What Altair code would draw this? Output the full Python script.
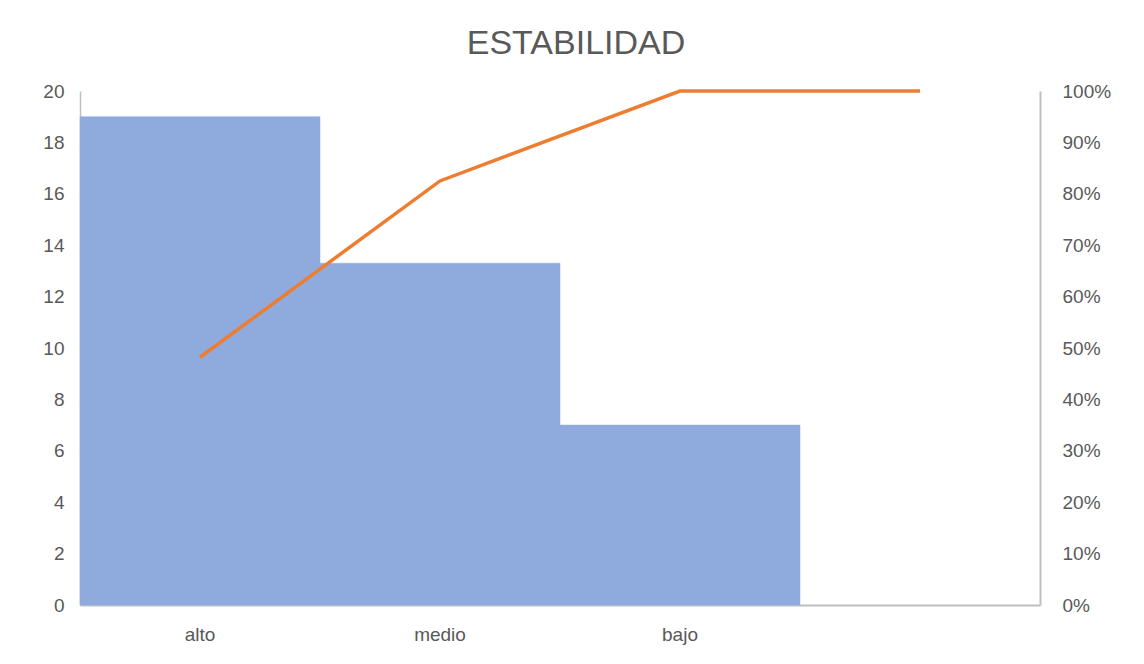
import altair as alt
import pandas as pd

categories = ["alto", "medio", "bajo", " "]
bar_cats = ["alto", "medio", "bajo"]
counts = [19, 13.3, 7]
cum_pct = [0.482, 0.825, 1.0, 1.0]
left_ticks = [0, 2, 4, 6, 8, 10, 12, 14, 16, 18, 20]
right_ticks = [0, 0.1, 0.2, 0.3, 0.4, 0.5, 0.6, 0.7, 0.8, 0.9, 1.0]

bars_df = pd.DataFrame({"cat": bar_cats, "count": counts})
line_df = pd.DataFrame({"cat": categories, "pct": cum_pct})

FONT = "Liberation Sans"
GREY = "#595959"
AXIS_LINE = "#BFBFBF"

xscale = alt.Scale(domain=categories, paddingInner=0, paddingOuter=0)
xaxis = alt.Axis(title=None, ticks=False, domain=True, domainColor=AXIS_LINE,
                 domainWidth=2, labelAngle=0, labelPadding=20, labelFontSize=19,
                 labelColor=GREY, labelFont=FONT)

bars = alt.Chart(bars_df).mark_bar(color="#8FAADC", stroke="#8FAADC", strokeWidth=0.5).encode(
    x=alt.X("cat:N", scale=xscale, sort=categories, axis=xaxis),
    y=alt.Y("count:Q", scale=alt.Scale(domain=[0, 20], nice=False),
            axis=alt.Axis(title=None, values=left_ticks, ticks=False, grid=False,
                          domainColor=AXIS_LINE, domainWidth=1.5, labelPadding=16,
                          labelFontSize=19, labelColor=GREY, labelFont=FONT)),
)

line = alt.Chart(line_df).mark_line(color="#ED7D31", strokeWidth=3.5).encode(
    x=alt.X("cat:N", scale=xscale, sort=categories),
    y=alt.Y("pct:Q", scale=alt.Scale(domain=[0, 1], nice=False),
            axis=alt.Axis(title=None, orient="right", values=right_ticks, format=".0%",
                          ticks=False, grid=False, domainColor=AXIS_LINE, domainWidth=2,
                          labelPadding=22, labelFontSize=19, labelColor=GREY, labelFont=FONT)),
)

chart = alt.layer(bars, line).resolve_scale(y="independent").properties(
    width=960,
    height=514,
    background="white",
    autosize=alt.AutoSizeParams(type="none"),
    padding={"left": 72, "top": 83, "right": 96, "bottom": 50},
    title=alt.TitleParams("ESTABILIDAD", fontSize=34, font=FONT, fontWeight="normal",
                          color=GREY, anchor="middle", offset=21, dx=16),
).configure_view(stroke=AXIS_LINE, strokeOpacity=0, strokeWidth=0)

chart.save("out.html", embed_options={"renderer": "svg", "actions": False})
